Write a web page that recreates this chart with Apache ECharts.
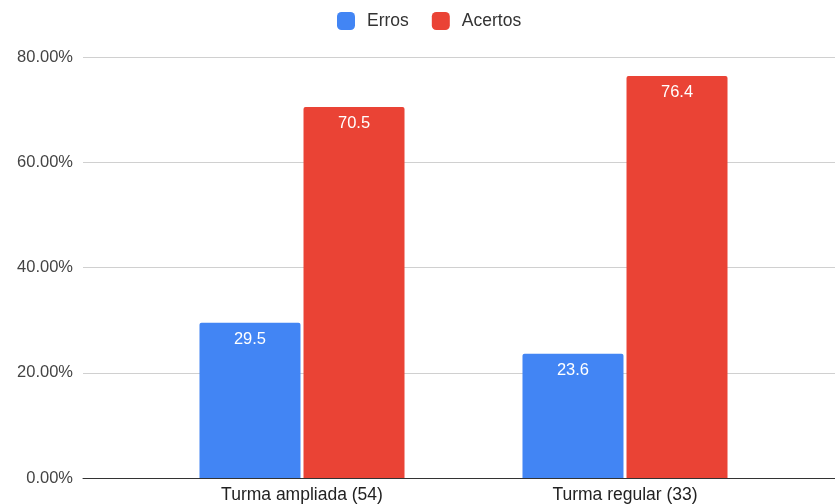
<!DOCTYPE html>
<html>
<head>
<meta charset="utf-8">
<script src="https://cdn.jsdelivr.net/npm/echarts@6/dist/echarts.min.js"></script>
<style>
  html, body { margin: 0; padding: 0; background: #fff; }
  #chart { width: 835px; height: 504px; }
</style>
</head>
<body>
<div id="chart"></div>
<script>
// Turmas e percentuais (em %)
const categories = ['Turma ampliada (54)', 'Turma regular (33)'];
const erros = [29.5, 23.6];
const acertos = [70.5, 76.4];
const yTicks = [0, 20, 40, 60, 80];

const FONT = '"Liberation Sans", Arial, sans-serif';
const chart = echarts.init(document.getElementById('chart'));

chart.setOption({
  animation: false,
  textStyle: { fontFamily: FONT },
  legend: {
    top: 12,
    left: 337,
    padding: 0,
    itemWidth: 18,
    itemHeight: 18,
    itemGap: 23,
    icon: 'roundRect',
    textStyle: { fontSize: 17.5, color: '#333', fontFamily: FONT, padding: [0, 0, 0, 7] },
    data: ['Erros', 'Acertos']
  },
  grid: [
    // background grid with y-axis scale and gridlines across the full width
    { left: 83, right: 0, top: 57, bottom: 26 },
    // grid holding the bars
    { left: 140.5, right: 48.5, top: 57, bottom: 26 }
  ],
  xAxis: [
    {
      gridIndex: 0, type: 'category', data: categories,
      axisLine: { show: true, lineStyle: { color: '#333', width: 1 } },
      axisTick: { show: false }, axisLabel: { show: false }
    },
    {
      gridIndex: 1, type: 'category', data: categories,
      axisLine: { show: false }, axisTick: { show: false },
      axisLabel: { fontSize: 17.5, color: '#222', margin: 8, fontFamily: FONT }
    }
  ],
  yAxis: [
    {
      gridIndex: 0, type: 'value',
      min: yTicks[0], max: yTicks[yTicks.length - 1], interval: 20,
      axisLine: { show: false }, axisTick: { show: false },
      axisLabel: {
        fontSize: 16.5, color: '#444', margin: 10, fontFamily: FONT,
        formatter: v => v.toFixed(2) + '%'
      },
      splitLine: { lineStyle: { color: '#d0d0d0', width: 1 } }
    },
    {
      gridIndex: 1, type: 'value',
      min: yTicks[0], max: yTicks[yTicks.length - 1], interval: 20,
      show: false, splitLine: { show: false }
    }
  ],
  series: [
    {
      name: 'Erros', type: 'bar', xAxisIndex: 1, yAxisIndex: 1,
      data: erros, barWidth: 101, barGap: '3%',
      itemStyle: { color: '#4285F4', borderRadius: [2, 2, 0, 0] },
      label: {
        show: true, position: 'insideTop', distance: 8,
        color: '#fff', fontSize: 16.5, fontFamily: FONT,
        formatter: p => p.value.toFixed(1)
      }
    },
    {
      name: 'Acertos', type: 'bar', xAxisIndex: 1, yAxisIndex: 1,
      data: acertos, barWidth: 101,
      itemStyle: { color: '#EA4335', borderRadius: [2, 2, 0, 0] },
      label: {
        show: true, position: 'insideTop', distance: 8,
        color: '#fff', fontSize: 16.5, fontFamily: FONT,
        formatter: p => p.value.toFixed(1)
      }
    }
  ]
});
</script>
</body>
</html>
